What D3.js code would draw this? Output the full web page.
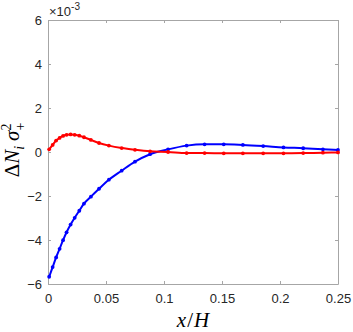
<!DOCTYPE html>
<html>
<head>
<meta charset="utf-8">
<script src="https://cdn.jsdelivr.net/npm/d3@7"></script>
<style>
  body { margin: 0; background: #fff; }
  svg { display: block; }
  .tick text { font-family: "Liberation Sans", Arial, sans-serif; font-size: 13px; fill: #262626; }
</style>
</head>
<body>
<div id="chart"></div>
<script>
// x/H grid shared by both curves
var xVals = [0.001, 0.004, 0.007, 0.010, 0.013, 0.016, 0.0195, 0.023, 0.027, 0.031, 0.037, 0.044,
  0.0525, 0.0635, 0.075, 0.088, 0.1035, 0.1195, 0.135, 0.1515, 0.168, 0.1855, 0.203, 0.22, 0.237, 0.25];
// values in units of 1e-3
var blueVals = [-5.67, -5.23, -4.79, -4.40, -4.01, -3.65, -3.30, -2.99, -2.67, -2.35, -2.03, -1.67,
  -1.26, -0.85, -0.44, -0.10, 0.12, 0.29, 0.35, 0.35, 0.32, 0.27, 0.21, 0.17, 0.12, 0.09];
var redVals = [0.12, 0.32, 0.52, 0.64, 0.73, 0.78, 0.80, 0.78, 0.74, 0.67, 0.55, 0.41,
  0.29, 0.18, 0.10, 0.03, 0.00, -0.05, -0.05, -0.06, -0.06, -0.06, -0.06, -0.05, -0.03, -0.02];
var xTicks = [0, 0.05, 0.1, 0.15, 0.2, 0.25];
var yTicks = [-6, -4, -2, 0, 2, 4, 6];

var width = 353, height = 332;
var margin = { top: 20, right: 15, bottom: 48, left: 48 };
var chartWidth = width - margin.left - margin.right;
var chartHeight = height - margin.top - margin.bottom;

var svg = d3.select("#chart").append("svg")
  .attr("width", width)
  .attr("height", height);

var g = svg.append("g")
  .attr("transform", `translate(${margin.left},${margin.top})`);

var x = d3.scaleLinear().domain([0, 0.25]).range([0, chartWidth]);
var y = d3.scaleLinear().domain([-6, 6]).range([chartHeight, 0]);

var axisColor = "#a6a6a6";

// bottom axis with labels
var xAxis = g.append("g")
  .attr("transform", `translate(0,${chartHeight})`)
  .call(d3.axisBottom(x).tickValues(xTicks).tickSizeInner(-3).tickSizeOuter(0).tickPadding(10)
    .tickFormat(d => d === 0 ? "0" : String(+d.toFixed(2))));
xAxis.select(".domain").attr("stroke", axisColor);
xAxis.selectAll(".tick line").attr("stroke", axisColor);

// top axis (no labels)
var xTop = g.append("g")
  .call(d3.axisTop(x).tickValues(xTicks).tickSizeInner(-3).tickSizeOuter(0).tickFormat(""));
xTop.select(".domain").attr("stroke", axisColor);
xTop.selectAll(".tick line").attr("stroke", axisColor);

// left axis
var yAxis = g.append("g")
  .call(d3.axisLeft(y).tickValues(yTicks).tickSizeInner(-3).tickSizeOuter(0).tickPadding(6));
yAxis.select(".domain").attr("stroke", axisColor);
yAxis.selectAll(".tick line").attr("stroke", axisColor);

// right axis
var yRight = g.append("g")
  .attr("transform", `translate(${chartWidth},0)`)
  .call(d3.axisRight(y).tickValues(yTicks).tickSizeInner(-3).tickSizeOuter(0).tickFormat(""));
yRight.select(".domain").attr("stroke", axisColor);
yRight.selectAll(".tick line").attr("stroke", axisColor);

// curves
var series = [
  { vals: blueVals, color: "#0000ff" },
  { vals: redVals, color: "#ff0000" }
];

var line = d3.line()
  .x((d, i) => x(xVals[i]))
  .y(d => y(d))
  .curve(d3.curveMonotoneX);

series.forEach(function(s) {
  g.append("path")
    .datum(s.vals)
    .attr("fill", "none")
    .attr("stroke", s.color)
    .attr("stroke-width", 2)
    .attr("d", line);
  g.selectAll(null)
    .data(s.vals)
    .enter()
    .append("circle")
    .attr("cx", (d, i) => x(xVals[i]))
    .attr("cy", d => y(d))
    .attr("r", 1.9)
    .attr("fill", s.color);
});

// exponent label
var expo = svg.append("text")
  .attr("x", margin.left + 1)
  .attr("y", 16)
  .attr("font-family", "Liberation Sans, Arial, sans-serif")
  .attr("font-size", 13)
  .attr("fill", "#262626");
expo.append("tspan").text("\u00d710");
expo.append("tspan").attr("dy", -6).attr("font-size", 10).text("-3");

// x label
var xl = svg.append("text")
  .attr("x", margin.left + chartWidth / 2)
  .attr("y", 327)
  .attr("text-anchor", "middle")
  .attr("font-family", "Liberation Serif, Times New Roman, serif")
  .attr("font-size", 21)
  .attr("fill", "#000");
xl.append("tspan").attr("font-style", "italic").text("x");
xl.append("tspan").attr("dx", 1).text("/");
xl.append("tspan").attr("dx", 1).attr("font-style", "italic").text("H");

// y label
var yl = svg.append("text")
  .attr("transform", `translate(19,${margin.top + chartHeight / 2 - 2}) rotate(-90)`)
  .attr("text-anchor", "middle")
  .attr("font-family", "Liberation Serif, Times New Roman, serif")
  .attr("font-size", 21)
  .attr("fill", "#000");
yl.append("tspan").text("\u0394");
yl.append("tspan").attr("font-style", "italic").text("N");
yl.append("tspan").attr("font-style", "italic").attr("font-size", 14).attr("dy", 5).text("i");
yl.append("tspan").attr("font-style", "italic").attr("dy", -5).attr("dx", 5).text("\u03c3");
yl.append("tspan").attr("font-size", 14).attr("dy", -8).text("2");
yl.append("tspan").attr("font-size", 14).attr("dy", 14).attr("dx", -7).text("+");
</script>
</body>
</html>
